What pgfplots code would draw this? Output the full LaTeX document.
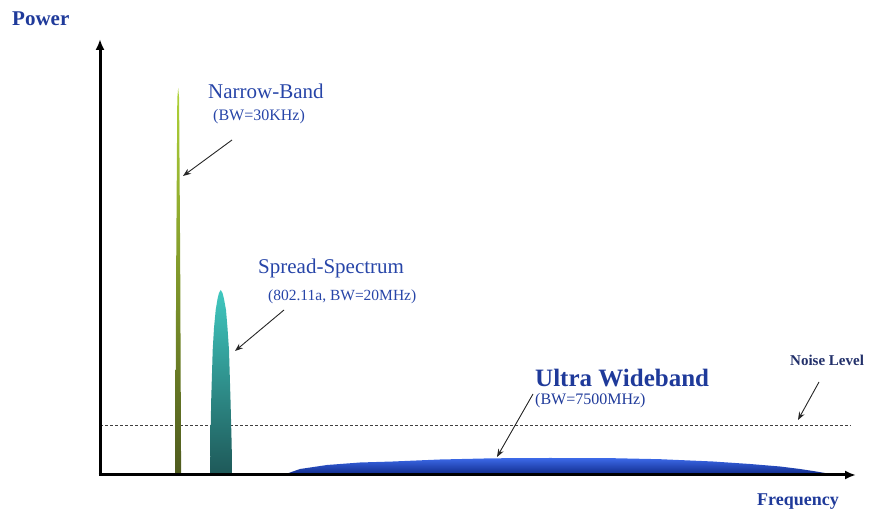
\documentclass[border=0pt]{standalone}
\usepackage{pgfplots}
\pgfplotsset{compat=1.18}
\usepackage{fontspec}
\setmainfont{Liberation Serif}
\usetikzlibrary{arrows.meta}
\definecolor{txtblue}{HTML}{2745A8}
\definecolor{darkblue}{HTML}{1F3A9A}
\definecolor{navy}{HTML}{22306A}
\begin{document}
\begin{tikzpicture}
\begin{axis}[
  width=871pt, height=513pt, scale only axis,
  xmin=0, xmax=871, ymin=0, ymax=513,
  hide axis, clip=false,
  every axis plot/.append style={forget plot}
]
% bounding box
\path (rel axis cs:0,0) rectangle (rel axis cs:1,1);

% noise level
\addplot[black!75, line width=0.8pt, dash pattern=on 3pt off 2pt]
  coordinates {(100,88) (851,88)};

% ultra wideband
\addplot[draw=none, top color={rgb,255:red,60;green,105;blue,232}, bottom color={rgb,255:red,14;green,40;blue,135}]
  coordinates {(283,38) (300,44) (327,48) (360,50.5) (393,51.5) (440,53.5) (493,54.7)
   (550,55) (613,54.8) (660,53.8) (713,51.5) (750,49) (780,46.5) (800,44) (813,42) (825,40) (835,38)};

% spread spectrum
\addplot[draw=none, top color={rgb,255:red,64;green,200;blue,192}, bottom color={rgb,255:red,30;green,88;blue,88}]
  coordinates {(210,38) (210.5,75) (211.2,113) (212.7,163) (214,185) (215.7,203) (217.5,214)
   (219,220) (220.7,223) (222.5,220) (224,214) (226,203) (227.5,185) (229,163) (230.5,113) (231.5,75) (232.3,38)};

% narrow band
\addplot[draw=none, top color={rgb,255:red,175;green,210;blue,55}, bottom color={rgb,255:red,78;green,90;blue,30}]
  coordinates {(175.3,38) (176.2,250) (177.3,415) (178.2,425) (179.1,415) (180.2,250) (181.1,38)};

% axes
\addplot[black, line width=3pt, -{Latex[length=11pt,width=9pt]}]
  coordinates {(100,38) (100,474)};
\addplot[black, line width=3pt, -{Latex[length=11pt,width=9pt]}]
  coordinates {(98.5,38) (856,38)};

% pointer arrows
\addplot[black!85, line width=0.9pt, -{Stealth[length=8pt,width=6pt]}]
  coordinates {(232,373) (183,337)};
\addplot[black!85, line width=0.9pt, -{Stealth[length=8pt,width=6pt]}]
  coordinates {(284,203) (235,162)};
\addplot[black!85, line width=0.9pt, -{Stealth[length=8pt,width=6pt]}]
  coordinates {(533,119) (497,56)};
\addplot[black!85, line width=0.9pt, -{Stealth[length=8pt,width=6pt]}]
  coordinates {(819,131) (798,93)};

% labels
\node[anchor=west, inner sep=0pt, text=darkblue, font=\fontsize{21}{24}\selectfont\bfseries] at (axis cs:12,494) {Power};
\node[anchor=west, inner sep=0pt, text=darkblue, font=\fontsize{18}{21}\selectfont\bfseries] at (axis cs:757,11) {Frequency};
\node[anchor=west, inner sep=0pt, text=txtblue, font=\fontsize{21}{24}\selectfont] at (axis cs:208,422) {Narrow-Band};
\node[anchor=west, inner sep=0pt, text=txtblue, font=\fontsize{16}{19}\selectfont] at (axis cs:213,396) {(BW=30KHz)};
\node[anchor=west, inner sep=0pt, text=txtblue, font=\fontsize{21}{24}\selectfont] at (axis cs:258,245) {Spread-Spectrum};
\node[anchor=west, inner sep=0pt, text=txtblue, font=\fontsize{15.5}{18}\selectfont] at (axis cs:268,216) {(802.11a, BW=20MHz)};
\node[anchor=west, inner sep=0pt, text=darkblue, font=\fontsize{25}{28}\selectfont\bfseries] at (axis cs:535,135) {Ultra Wideband};
\node[anchor=west, inner sep=0pt, text=darkblue, font=\fontsize{16}{19}\selectfont] at (axis cs:535,112) {(BW=7500MHz)};
\node[anchor=west, inner sep=0pt, text=navy, font=\fontsize{15}{18}\selectfont\bfseries] at (axis cs:790,153) {Noise Level};
\end{axis}
\end{tikzpicture}
\end{document}
